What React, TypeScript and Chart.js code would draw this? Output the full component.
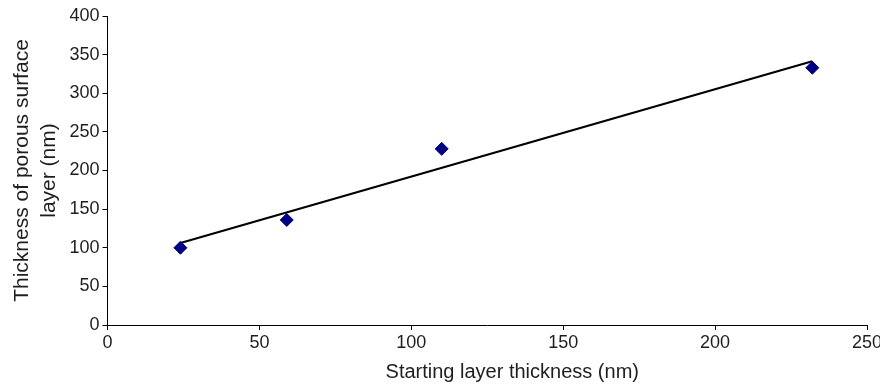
import React, { useEffect, useRef } from "react";
import { Chart, registerables } from "chart.js";

Chart.register(...registerables);

// ---- data ----
const startingThickness = [24, 59, 110, 232];
const porousThickness = [100, 136, 228, 333];
const xTickValues = [0, 50, 100, 150, 200, 250];
const yTickValues = [0, 50, 100, 150, 200, 250, 300, 350, 400];
const xTitle = "Starting layer thickness (nm)";
const yTitle = ["Thickness of porous surface", "layer (nm)"];

const FONT = '"Liberation Sans", Arial, Helvetica, sans-serif';
const TEXT = "#1e1e1e";

// least-squares trend line through the measured points
function linearFit(xs: number[], ys: number[]) {
  const n = xs.length;
  const mx = xs.reduce((a, b) => a + b, 0) / n;
  const my = ys.reduce((a, b) => a + b, 0) / n;
  let sxy = 0;
  let sxx = 0;
  for (let i = 0; i < n; i++) {
    sxy += (xs[i] - mx) * (ys[i] - my);
    sxx += (xs[i] - mx) * (xs[i] - mx);
  }
  const slope = sxy / sxx;
  return { slope, intercept: my - slope * mx };
}

const xTitlePlugin = {
  id: "xTitleShifted",
  afterDraw(chart: any) {
    const { ctx, chartArea } = chart;
    ctx.save();
    ctx.font = `20px ${FONT}`;
    ctx.fillStyle = TEXT;
    ctx.textAlign = "center";
    ctx.textBaseline = "alphabetic";
    ctx.fillText(xTitle, (chartArea.left + chartArea.right) / 2 + 25, chartArea.bottom + 53);
    ctx.restore();
  },
};

export default function App() {
  const canvasRef = useRef<HTMLCanvasElement | null>(null);

  useEffect(() => {
    if (!canvasRef.current) return;
    const fit = linearFit(startingThickness, porousThickness);
    const xMin = Math.min(...startingThickness);
    const xMax = Math.max(...startingThickness);
    const trend = [
      { x: xMin, y: fit.slope * xMin + fit.intercept },
      { x: xMax, y: fit.slope * xMax + fit.intercept },
    ];
    const points = startingThickness.map((x, i) => ({ x, y: porousThickness[i] }));

    const chart = new Chart(canvasRef.current, {
      type: "scatter",
      data: {
        datasets: [
          {
            label: "Measured",
            data: points,
            pointStyle: "rectRot",
            pointRadius: 6.5,
            pointBackgroundColor: "#000080",
            pointBorderColor: "#000080",
            pointBorderWidth: 1,
            showLine: false,
          },
          {
            label: "Trend",
            data: trend,
            showLine: true,
            borderColor: "#000000",
            borderWidth: 2.2,
            pointRadius: 0,
            fill: false,
          },
        ],
      },
      options: {
        responsive: false,
        animation: false,
        layout: { padding: { top: 16, right: 13, left: 0, bottom: 0 } },
        plugins: {
          legend: { display: false },
          tooltip: { enabled: false },
        },
        scales: {
          x: {
            type: "linear",
            min: 0,
            max: 250,
            afterBuildTicks: (scale: any) => {
              scale.ticks = xTickValues.map((v) => ({ value: v }));
            },
            afterFit: (scale: any) => {
              scale.height = 64;
              scale.paddingLeft = 0;
              scale.paddingRight = 0;
            },
            grid: {
              drawOnChartArea: false,
              drawTicks: true,
              tickLength: 5,
              color: "#000",
            },
            border: { display: true, color: "#000", width: 1 },
            ticks: {
              color: TEXT,
              font: { family: FONT, size: 18 },
              padding: 2,
              maxRotation: 0,
            },
            title: { display: false },
          },
          y: {
            type: "linear",
            min: 0,
            max: 400,
            afterBuildTicks: (scale: any) => {
              scale.ticks = yTickValues.map((v) => ({ value: v }));
            },
            afterFit: (scale: any) => {
              scale.width = 107.5;
              scale.paddingTop = 0;
              scale.paddingBottom = 0;
            },
            grid: {
              drawOnChartArea: false,
              drawTicks: true,
              tickLength: 5,
              color: "#000",
            },
            border: { display: true, color: "#000", width: 1 },
            ticks: {
              color: TEXT,
              font: { family: FONT, size: 18 },
              padding: 3,
            },
            title: {
              display: true,
              text: yTitle,
              color: TEXT,
              font: { family: FONT, size: 21, lineHeight: 27 / 21 },
              padding: { top: 8.5, bottom: 0 },
            },
          },
        },
      },
      plugins: [xTitlePlugin],
    });
    return () => chart.destroy();
  }, []);

  return (
    <div style={{ position: "fixed", left: 0, top: 0, width: 880, height: 389, background: "#fff" }}>
      <canvas ref={canvasRef} width={880} height={389} style={{ display: "block" }} />
    </div>
  );
}
